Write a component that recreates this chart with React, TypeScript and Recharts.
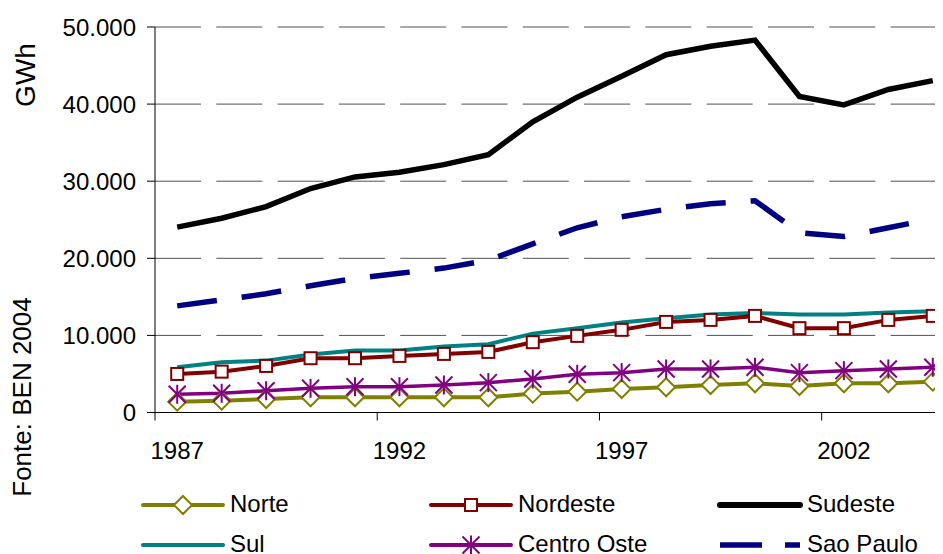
import React from "react";
import { LineChart, Line, XAxis, YAxis, CartesianGrid } from "recharts";

const years = [1987, 1988, 1989, 1990, 1991, 1992, 1993, 1994, 1995, 1996, 1997, 1998, 1999, 2000, 2001, 2002, 2003, 2004];
const norte = [1400, 1530, 1750, 1970, 1970, 1970, 1970, 1970, 2450, 2700, 3050, 3270, 3570, 3790, 3440, 3790, 3790, 4000];
const nordeste = [5000, 5300, 6040, 7040, 7040, 7340, 7600, 7860, 9120, 9940, 10720, 11750, 12010, 12530, 10940, 10940, 12010, 12530];
const sudeste = [24050, 25200, 26700, 29050, 30550, 31150, 32150, 33450, 37700, 40900, 43600, 46400, 47500, 48300, 41000, 39900, 41900, 43050];
const sul = [5870, 6520, 6730, 7510, 8030, 8030, 8550, 8860, 10230, 10930, 11660, 12230, 12700, 12920, 12700, 12700, 12960, 13140];
const centroOeste = [2360, 2490, 2830, 3140, 3350, 3350, 3570, 3870, 4350, 4960, 5170, 5650, 5650, 5870, 5170, 5430, 5650, 5870];
const saoPaulo = [13830, 14600, 15400, 16430, 17400, 18050, 18730, 19740, 21880, 23960, 25390, 26360, 27080, 27470, 23310, 22830, 23960, 25130];

const yTicks = [0, 10000, 20000, 30000, 40000, 50000];
const xLabelTicks = [1987, 1992, 1997, 2002];
const xTickMarks = [1986.5, 1991.5, 1996.5, 2001.5];

const data = years.map((year, i) => ({
  year,
  norte: norte[i],
  nordeste: nordeste[i],
  sudeste: sudeste[i],
  sul: sul[i],
  centroOeste: centroOeste[i],
  saoPaulo: saoPaulo[i],
}));

const FONT = '"Liberation Sans", Arial, sans-serif';
const C_NORTE = "#808000";
const C_NORDESTE = "#800000";
const C_SUDESTE = "#000000";
const C_SUL = "#008080";
const C_CO = "#800080";
const C_SP = "#000080";

const fmt = (v: number) => (v === 0 ? "0" : `${Math.round(v / 1000)}.000`);

const diamond = (cx: number, cy: number, k?: any) => (
  <polygon key={k} points={`${cx},${cy - 9} ${cx + 9},${cy} ${cx},${cy + 9} ${cx - 9},${cy}`} fill="#fff" stroke={C_NORTE} strokeWidth={2} />
);
const square = (cx: number, cy: number, k?: any) => (
  <rect key={k} x={cx - 6} y={cy - 6} width={12} height={12} fill="#fff" stroke={C_NORDESTE} strokeWidth={2} />
);
const star = (cx: number, cy: number, k?: any) => (
  <g key={k} stroke={C_CO} strokeWidth={2}>
    <line x1={cx - 8.5} y1={cy - 8.5} x2={cx + 8.5} y2={cy + 8.5} />
    <line x1={cx - 8.5} y1={cy + 8.5} x2={cx + 8.5} y2={cy - 8.5} />
    <line x1={cx} y1={cy - 9.5} x2={cx} y2={cy + 9.5} />
  </g>
);

const DiamondDot = (p: any) => (p.cx == null ? <g key={p.index} /> : diamond(p.cx, p.cy, p.index));
const SquareDot = (p: any) => (p.cx == null ? <g key={p.index} /> : square(p.cx, p.cy, p.index));
const StarDot = (p: any) => (p.cx == null ? <g key={p.index} /> : star(p.cx, p.cy, p.index));

type LegendItem = { name: string; color: string; width: number; dash?: string; marker?: (cx: number, cy: number) => any; round?: boolean };
const legendRows: LegendItem[][] = [
  [
    { name: "Norte", color: C_NORTE, width: 4, marker: diamond, round: true },
    { name: "Nordeste", color: C_NORDESTE, width: 4, marker: square, round: true },
    { name: "Sudeste", color: C_SUDESTE, width: 6, round: true },
  ],
  [
    { name: "Sul", color: C_SUL, width: 4, round: true },
    { name: "Centro Oste", color: C_CO, width: 4, marker: star, round: true },
    { name: "Sao Paulo", color: C_SP, width: 5.5, dash: "42 23" },
  ],
];
const legendCols = [135, 423, 712];
const legendRowY = [497, 537];

export default function App() {
  return (
    <div style={{ position: "relative", width: 935, height: 546, overflow: "hidden" }}>
      <LineChart width={960} height={546} data={data} margin={{ top: 19, right: 13, bottom: 93.5, left: 0 }}>
        <CartesianGrid vertical={false} stroke="#505050" strokeDasharray="46 15.3" />
        <XAxis
          xAxisId="a"
          dataKey="year"
          type="number"
          domain={[1986.5, 2004.5]}
          ticks={xTickMarks}
          interval={0}
          height={8}
          tickSize={8}
          tickFormatter={() => ""}
          axisLine={{ stroke: "#000", strokeWidth: 1 }}
          tickLine={{ stroke: "#000", strokeWidth: 1 }}
        />
        <XAxis
          xAxisId="b"
          dataKey="year"
          type="number"
          domain={[1986.5, 2004.5]}
          ticks={xLabelTicks}
          interval={0}
          height={40}
          tickSize={0}
          tickMargin={21}
          axisLine={false}
          tickLine={false}
          tick={{ fill: "#000", fontSize: 24, fontFamily: FONT }}
        />
        <YAxis
          type="number"
          domain={[0, 50000]}
          ticks={yTicks}
          interval={0}
          width={147}
          tickSize={8}
          tickMargin={11}
          tickFormatter={fmt}
          axisLine={{ stroke: "#000", strokeWidth: 1 }}
          tickLine={{ stroke: "#000", strokeWidth: 1 }}
          tick={{ fill: "#000", fontSize: 24, fontFamily: FONT }}
        />
        <Line xAxisId="b" type="linear" dataKey="sul" stroke={C_SUL} strokeWidth={4} dot={false} activeDot={false} isAnimationActive={false} />
        <Line xAxisId="b" type="linear" dataKey="sudeste" stroke={C_SUDESTE} strokeWidth={5.5} dot={false} activeDot={false} isAnimationActive={false} />
        <Line xAxisId="b" type="linear" dataKey="saoPaulo" stroke={C_SP} strokeWidth={5.5} strokeDasharray="40 25" dot={false} activeDot={false} isAnimationActive={false} />
        <Line xAxisId="b" type="linear" dataKey="norte" stroke={C_NORTE} strokeWidth={4} dot={DiamondDot} activeDot={false} isAnimationActive={false} />
        <Line xAxisId="b" type="linear" dataKey="centroOeste" stroke={C_CO} strokeWidth={3.5} dot={StarDot} activeDot={false} isAnimationActive={false} />
        <Line xAxisId="b" type="linear" dataKey="nordeste" stroke={C_NORDESTE} strokeWidth={4} dot={SquareDot} activeDot={false} isAnimationActive={false} />
      </LineChart>
      <svg width={935} height={546} style={{ position: "absolute", left: 0, top: 0, pointerEvents: "none" }}>
        <text x={0} y={0} transform="translate(17,67) rotate(-90)" textAnchor="middle" dominantBaseline="central" fontSize={28} fontFamily={FONT} fill="#000">GWh</text>
        <text x={0} y={0} transform="translate(14,389) rotate(-90)" textAnchor="middle" dominantBaseline="central" fontSize={26} fontFamily={FONT} fill="#000">Fonte: BEN 2004</text>
        {legendRows.map((row, r) =>
          row.map((it, c) => {
            const x0 = legendCols[c];
            const y = legendRowY[r];
            return (
              <g key={`${r}-${c}`}>
                <line x1={x0} y1={y} x2={x0 + 80} y2={y} stroke={it.color} strokeWidth={it.width} strokeDasharray={it.dash} strokeLinecap={it.round ? "round" : "butt"} />
                {it.marker ? it.marker(x0 + 40, y) : null}
                <text x={x0 + 87} y={y - 2} dominantBaseline="central" fontSize={24} fontFamily={FONT} fill="#000">{it.name}</text>
              </g>
            );
          })
        )}
      </svg>
    </div>
  );
}
